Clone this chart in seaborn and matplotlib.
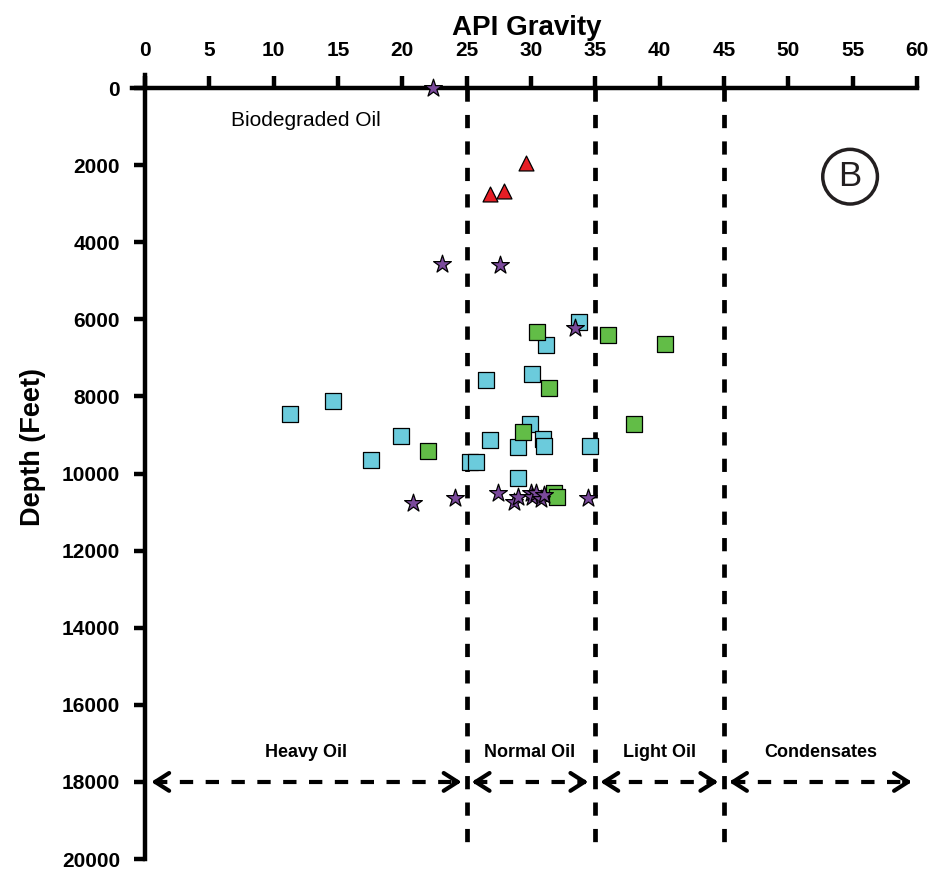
import matplotlib
matplotlib.use('Agg')
import matplotlib.pyplot as plt
import seaborn as sns
import pandas as pd

# API gravity / depth pairs
cyan_api = [33.7, 31.2, 30.1, 26.5, 14.6, 11.3, 19.9, 17.6, 29.9, 30.9, 31.0, 26.8, 29.0, 34.6, 25.3, 25.7, 29.0]
cyan_depth = [6080, 6670, 7420, 7575, 8110, 8455, 9035, 9640, 8710, 9100, 9280, 9140, 9300, 9280, 9700, 9700, 10110]

green_api = [30.5, 36.0, 40.4, 31.4, 29.4, 38.0, 22.0, 31.8, 32.0]
green_depth = [6330, 6400, 6640, 7790, 8915, 8725, 9410, 10515, 10600]

red_api = [29.6, 26.8, 27.9]
red_depth = [1950, 2760, 2670]

purple_api = [22.4, 23.1, 27.6, 33.4, 20.8, 24.1, 27.4, 28.7, 29.0, 30.0, 30.1, 30.4, 30.8, 31.0, 34.4]
purple_depth = [0, 4575, 4590, 6220, 10775, 10630, 10515, 10740, 10620, 10515, 10620, 10500, 10660, 10550, 10640]

class_bounds = [25, 35, 45]
class_names = ['Heavy Oil', 'Normal Oil', 'Light Oil', 'Condensates']
class_arrows = [(0.5, 24.6), (25.4, 34.45), (35.4, 44.55), (45.4, 59.6)]

df = pd.concat([
    pd.DataFrame({'api': cyan_api, 'depth': cyan_depth, 'grp': 'cyan'}),
    pd.DataFrame({'api': green_api, 'depth': green_depth, 'grp': 'green'}),
    pd.DataFrame({'api': red_api, 'depth': red_depth, 'grp': 'red'}),
    pd.DataFrame({'api': purple_api, 'depth': purple_depth, 'grp': 'purple'}),
], ignore_index=True)

sns.set_style('white')
plt.rcParams['font.family'] = ['Liberation Sans', 'DejaVu Sans']
plt.rcParams.update({'text.color': 'black', 'axes.labelcolor': 'black',
                     'xtick.color': 'black', 'ytick.color': 'black'})

fig = plt.figure(figsize=(9.32, 8.69), dpi=100)
ax = fig.add_axes([0.1417, 0.0115, 0.8422, 0.9023])

styles = {
    'cyan': dict(marker='s', color='#6bcbdc', s=122),
    'green': dict(marker='s', color='#62bd47', s=122),
    'red': dict(marker='^', color='#e61e25', s=115),
    'purple': dict(marker='*', color='#7b4a9c', s=180),
}
for grp, kw in styles.items():
    sns.scatterplot(data=df[df.grp == grp], x='api', y='depth', ax=ax,
                    marker=kw['marker'], color=kw['color'], s=kw['s'],
                    edgecolor='black', linewidth=0.9, zorder=5, clip_on=False)

ax.set_xlim(-1, 60)
ax.set_ylim(20000, -340)

# class boundaries
ax.vlines(class_bounds, 0, 19680, colors='black', lw=3.4,
          linestyles=[(0, (2.8, 2.8))], zorder=2)

# double headed dashed arrows
arrow_y = 18000
for (x0, x1), name in zip(class_arrows, class_names):
    ax.hlines(arrow_y, x0 + 0.2, x1 - 0.2, colors='black', lw=3,
              linestyles=[(0, (3.2, 3.0))], zorder=3)
    for tip, tail in [(x0, x0 + 0.6), (x1, x1 - 0.6)]:
        ax.annotate('', xy=(tip, arrow_y), xytext=(tail, arrow_y),
                    arrowprops=dict(arrowstyle='->,head_length=0.5,head_width=0.32',
                                    lw=3, color='black', shrinkA=0, shrinkB=0,
                                    mutation_scale=20))
    ax.text((x0 + x1) / 2, 17250, name, ha='center', va='center',
            fontsize=13, fontweight='bold')

ax.text(6.7, 830, 'Biodegraded Oil', ha='left', va='center', fontsize=15)

# panel label
ax.scatter([54.8], [2300], s=1550, marker='o', facecolors='none',
           edgecolors='#231f20', linewidths=2.5, clip_on=False)
ax.text(54.8, 2300, 'B', ha='center', va='center', fontsize=25, color='#231f20')

# axes styling
for side in ['right', 'bottom']:
    ax.spines[side].set_visible(False)
ax.spines['top'].set_position(('data', 0))
ax.spines['left'].set_position(('data', 0))
for side in ['top', 'left']:
    ax.spines[side].set_linewidth(3.2)
    ax.spines[side].set_color('black')

ax.xaxis.tick_top()
ax.set_xticks(range(0, 61, 5))
ax.set_yticks(range(0, 20001, 2000))
ax.tick_params(axis='x', direction='out', length=9, width=3.2, pad=11,
               labelsize=15, top=True, bottom=False)
ax.tick_params(axis='y', direction='out', length=8, width=3.2, pad=10,
               labelsize=15, left=True)
for lab in ax.get_xticklabels() + ax.get_yticklabels():
    lab.set_fontweight('bold')

ax.xaxis.set_label_position('top')
ax.set_xlabel('API Gravity', fontsize=20, fontweight='bold')
ax.xaxis.set_label_coords(0.503, 1.051)
ax.set_ylabel('Depth (Feet)', fontsize=19.5, fontweight='bold')
ax.yaxis.set_label_coords(-0.11, 0.5255)

fig.savefig('out.png', dpi=100)
